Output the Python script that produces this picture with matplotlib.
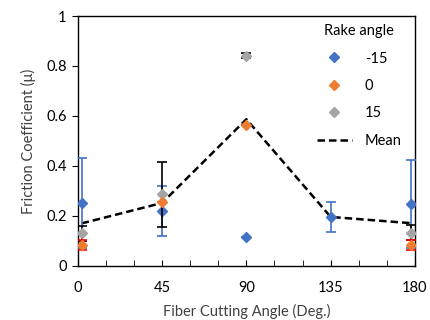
import matplotlib.pyplot as plt
from matplotlib.lines import Line2D

plt.rcParams['font.family'] = ['Lato', 'DejaVu Sans']

# cutting angles (points are drawn slightly inside the 0/180 limits)
angles = [2, 45, 90, 135, 178]

neg15 = [0.25, 0.22, 0.116, 0.196, 0.248]
neg15_err = [0.18, 0.10, 0.0, 0.06, 0.176]

zero_x = [2, 45, 90, 178]
zero = [0.085, 0.256, 0.563, 0.084]
zero_err = [0.02, 0.0, 0.0, 0.02]

pos15_x = [2, 45, 90, 178]
pos15 = [0.13, 0.287, 0.841, 0.133]
pos15_err = [0.03, 0.13, 0.01, 0.03]

mean = [0.17, 0.252, 0.587, 0.196, 0.171]

xticks = [0, 45, 90, 135, 180]
yticks = [0, 0.2, 0.4, 0.6, 0.8, 1]
ylabels = ['0', '0.2', '0.4', '0.6', '0.8', '1']

blue = '#4472C4'
orange = '#ED7D31'
gray = '#A5A5A5'

fig = plt.figure(figsize=(4.3, 3.2), dpi=100)
ax = fig.add_axes([0.181, 0.169, 0.784, 0.781])

ax.plot(angles, mean, color='black', ls=(0, (3, 1.6)), lw=1.8, zorder=2)

ax.errorbar(angles, neg15, yerr=neg15_err, fmt='D', color=blue, ms=5.5,
            ecolor=blue, elinewidth=1.2, capsize=3.5, capthick=1.2, zorder=3)
ax.errorbar(pos15_x, pos15, yerr=pos15_err, fmt='D', color=gray, ms=5.5,
            ecolor='black', elinewidth=1.2, capsize=3.5, capthick=1.2, zorder=4)
ax.errorbar(zero_x, zero, yerr=zero_err, fmt='D', color=orange, ms=5.5,
            ecolor='red', elinewidth=1.2, capsize=3.5, capthick=1.2, zorder=5)

ax.set_xlim(0, 180)
ax.set_ylim(0, 1)
ax.set_xticks(xticks)
ax.set_xticks(range(0, 181, 15), minor=True)
ax.set_yticks(yticks)
ax.set_yticklabels(ylabels)
ax.tick_params(axis='x', which='both', direction='in', length=4, pad=11,
               labelsize=10.5, color='black')
ax.tick_params(axis='y', direction='out', length=4, labelsize=10.5, pad=4)
for s in ax.spines.values():
    s.set_linewidth(1.0)

ax.set_xlabel('Fiber Cutting Angle (Deg.)', fontsize=10.5, labelpad=6,
              color='#404040')
ax.set_ylabel('Friction Coefficient (μ)', fontsize=10.5, labelpad=7,
              color='#404040')

handles = [
    Line2D([], [], marker='D', color=blue, ls='none', ms=5),
    Line2D([], [], marker='D', color=orange, ls='none', ms=5),
    Line2D([], [], marker='D', color=gray, ls='none', ms=5),
    Line2D([], [], color='black', ls=(0, (3, 1.6)), lw=1.8),
]
leg = ax.legend(handles, ['-15', '0', '15', 'Mean'], title='Rake angle',
                loc='upper right', frameon=False, fontsize=10.5,
                title_fontsize=10.5, handlelength=2.4, labelspacing=0.92,
                handletextpad=0.9, bbox_to_anchor=(1.0, 1.02))

fig.savefig('out.png', dpi=100)
